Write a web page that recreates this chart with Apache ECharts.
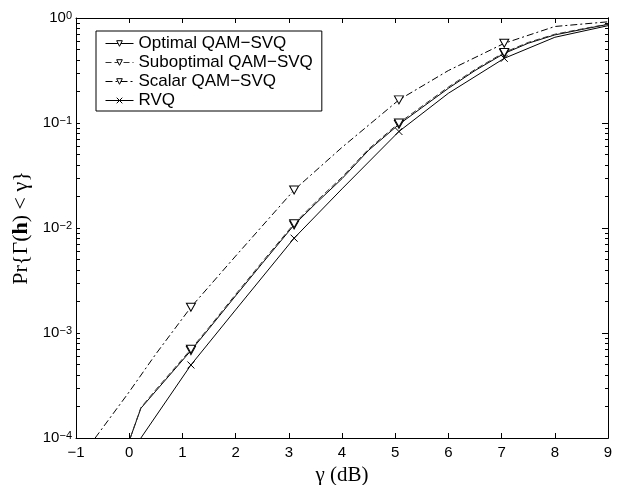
<!DOCTYPE html>
<html><head><meta charset="utf-8">
<script src="https://cdn.jsdelivr.net/npm/echarts@6/dist/echarts.min.js"></script>
<style>html,body{margin:0;padding:0;background:#fff}#c{width:625px;height:485px}</style>
</head><body><div id="c"></div>
<script>
// marker positions (dB)
const markerX = [1.16, 3.1, 5.07, 7.05];

const optX = [0.02, 0.22, 0.5, 1.16, 1.5, 2, 2.5, 3.1, 3.5, 4, 4.5, 5.07, 5.5, 6, 6.5, 7.05, 7.5, 8, 8.5, 9];
const optY = [1.0e-4, 1.92e-4, 2.8e-4, 6.8e-4, 1.1e-3, 2.26e-3, 4.6e-3, 1.07e-2, 1.7e-2, 2.95e-2, 5.5e-2, 9.7e-2, 0.14, 0.214, 0.316, 0.46, 0.575, 0.69, 0.776, 0.87];

const subX = [0.02, 0.22, 0.5, 1.16, 1.5, 2, 2.5, 3.1, 3.5, 4, 4.5, 5.07, 5.5, 6, 6.5, 7.05, 7.5, 8, 8.5, 9];
const subY = [1.0e-4, 1.95e-4, 2.88e-4, 7.0e-4, 1.13e-3, 2.33e-3, 4.75e-3, 1.1e-2, 1.76e-2, 3.05e-2, 5.65e-2, 0.1, 0.144, 0.22, 0.323, 0.47, 0.585, 0.70, 0.785, 0.875];

const scalX = [-0.64, 0, 0.5, 1.16, 2, 3.1, 4, 5.07, 6, 7.05, 8, 9];
const scalY = [1.0e-4, 2.75e-4, 6.3e-4, 1.76e-3, 5.4e-3, 2.3e-2, 5.86e-2, 0.166, 0.316, 0.574, 0.83, 0.92];

const rvqX = [0.22, 1.16, 2, 3.1, 4, 5.07, 6, 7.05, 8, 9];
const rvqY = [1.0e-4, 4.96e-4, 1.66e-3, 8.0e-3, 2.36e-2, 8.3e-2, 0.192, 0.413, 0.655, 0.845];

const seriesNames = ['Optimal QAM\u2212SVQ', 'Suboptimal QAM\u2212SVQ', 'Scalar QAM\u2212SVQ', 'RVQ'];
const xTicks = [-1, 0, 1, 2, 3, 4, 5, 6, 7, 8, 9];
const yTickExp = [-4, -3, -2, -1, 0];
const yMinorVals = [2e-4,3e-4,4e-4,5e-4,6e-4,7e-4,8e-4,9e-4,2e-3,3e-3,4e-3,5e-3,6e-3,7e-3,8e-3,9e-3,2e-2,3e-2,4e-2,5e-2,6e-2,7e-2,8e-2,9e-2,0.2,0.3,0.4,0.5,0.6,0.7,0.8,0.9];
const yMinorExp = yMinorVals.map(v => Math.log10(v));
const yAllTickExp = yTickExp.concat(yMinorExp);

function build(xs, ys) {
  return xs.map((x, i) => markerX.indexOf(x) >= 0 ? { value: [x, ys[i]] } : { value: [x, ys[i]], symbol: 'none' });
}

const chart = echarts.init(document.getElementById('c'));
const black = '#000';
const tri = { symbol: 'triangle', symbolRotate: 180, symbolSize: [9, 8], itemStyle: { color: '#fff', borderColor: black, borderWidth: 1 } };
const base = { type: 'line', xAxisIndex: 0, yAxisIndex: 0, showAllSymbol: true, smooth: false, clip: true, emphasis: { disabled: true }, silent: true, z: 3 };

function minus(v) { return v < 0 ? '\u2212' + Math.abs(v) : String(v); }

const frameLine = { show: true, onZero: false, lineStyle: { color: black, width: 1 } };

chart.setOption({
  animation: false,
  backgroundColor: '#fff',
  grid: { left: 76, right: 17, top: 18, bottom: 47, containLabel: false, outerBoundsMode: 'none' },
  legend: {
    orient: 'vertical', left: 96, top: 31,
    padding: [3, 9, 1, 9], itemGap: 0, itemWidth: 28, itemHeight: 7, itemTextGap: 11,
    backgroundColor: '#fff', borderColor: black, borderWidth: 1, borderRadius: 0,
    lineStyle: { width: 1 },
    itemStyle: { borderWidth: 1 },
    textStyle: { fontFamily: 'Liberation Sans', fontSize: 17, color: black, lineHeight: 19 },
    data: seriesNames, selectedMode: false
  },
  xAxis: [
    { type: 'value', min: -1, max: 9, interval: 1, position: 'bottom',
      axisLine: frameLine,
      axisTick: { show: true, inside: true, length: 5, customValues: xTicks, lineStyle: { color: black } },
      axisLabel: { show: true, customValues: xTicks, margin: 7, color: black, fontFamily: 'Liberation Sans', fontSize: 15, formatter: v => minus(v) },
      splitLine: { show: false },
      name: '\u03b3 (dB)', nameLocation: 'middle', nameGap: 21,
      nameTextStyle: { fontFamily: 'Liberation Serif', fontSize: 21, color: black } },
    { type: 'value', min: -1, max: 9, interval: 1, position: 'top',
      axisLine: frameLine,
      axisTick: { show: true, inside: true, length: 5, customValues: xTicks, lineStyle: { color: black } },
      axisLabel: { show: false }, splitLine: { show: false } }
  ],
  yAxis: [
    { type: 'log', logBase: 10, min: 1e-4, max: 1, position: 'left', show: false },
    { type: 'value', min: -4, max: 0, interval: 1, position: 'left',
      axisLine: frameLine,
      axisTick: { show: true, inside: true, length: 4, customValues: yAllTickExp, lineStyle: { color: black } },
      axisLabel: { show: true, customValues: yTickExp, margin: 4, color: black,
        formatter: v => '{b|10}{s|' + minus(v) + '}',
        rich: {
          b: { fontFamily: 'Liberation Sans', fontSize: 15, lineHeight: 15, padding: [2, 0, 2, 0], color: black },
          s: { fontFamily: 'Liberation Sans', fontSize: 11, lineHeight: 11, padding: [0, 0, 8, 0], verticalAlign: 'top', color: black }
        } },
      splitLine: { show: false },
      name: 'Pr{\u0393({h|h}) < \u03b3}', nameLocation: 'middle', nameGap: 36, nameRotate: 90,
      nameTextStyle: { fontFamily: 'Liberation Serif', fontSize: 22, color: black, rich: {
        h: { fontFamily: 'Liberation Serif', fontSize: 22, fontWeight: 'bold', color: black } } } },
    { type: 'value', min: -4, max: 0, interval: 1, position: 'right',
      axisLine: frameLine,
      axisTick: { show: true, inside: true, length: 6, customValues: yTickExp, lineStyle: { color: black } },
      axisLabel: { show: false }, splitLine: { show: false } },
    { type: 'value', min: -4, max: 0, position: 'right',
      axisLine: frameLine,
      axisTick: { show: true, inside: true, length: 3, customValues: yMinorExp, lineStyle: { color: black } },
      axisLabel: { show: false }, splitLine: { show: false } }
  ],
  series: [
    Object.assign({}, base, tri, { name: seriesNames[0], data: build(optX, optY),
      lineStyle: { color: black, width: 1, type: 'solid' } }),
    Object.assign({}, base, tri, { name: seriesNames[1], data: build(subX, subY),
      lineStyle: { color: '#333', width: 1, type: [6, 3] } }),
    Object.assign({}, base, tri, { name: seriesNames[2], data: build(scalX, scalY),
      lineStyle: { color: black, width: 1, type: [7, 3, 2, 3] } }),
    Object.assign({}, base, { name: seriesNames[3], data: build(rvqX, rvqY),
      symbol: 'path://M0,0L10,10M10,0L0,10', symbolSize: 7,
      itemStyle: { color: 'none', borderColor: black, borderWidth: 1 },
      lineStyle: { color: black, width: 1, type: 'solid' } })
  ]
});
</script>
</body></html>
